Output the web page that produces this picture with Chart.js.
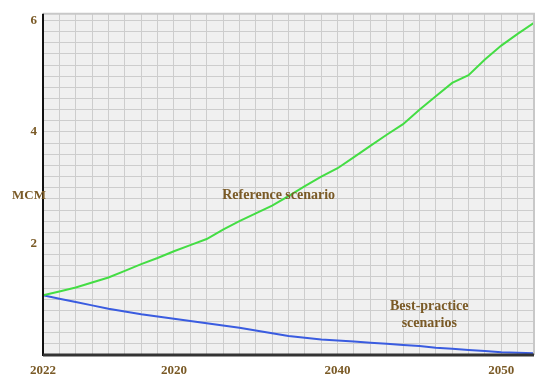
<!DOCTYPE html>
<html>
<head>
<meta charset="utf-8">
<script src="https://cdn.jsdelivr.net/npm/chart.js@4/dist/chart.umd.min.js"></script>
<style>
  html, body { margin: 0; padding: 0; background: #ffffff; }
  #wrap { width: 550px; height: 383px; position: relative; }
</style>
</head>
<body>
<div id="wrap"><canvas id="c" width="550" height="383"></canvas></div>
<script>
// ---- data ----
const years = [2022,2023,2024,2025,2026,2027,2028,2029,2030,2031,2032,2033,2034,2035,2036,2037,2038,2039,2040,2041,2042,2043,2044,2045,2046,2047,2048,2049,2050,2051,2052];
const referenceScenario = [1.07,1.14,1.21,1.30,1.39,1.51,1.63,1.74,1.86,1.97,2.08,2.25,2.40,2.54,2.68,2.85,3.03,3.20,3.35,3.55,3.75,3.95,4.14,4.40,4.64,4.88,5.02,5.30,5.55,5.76,5.96];
const bestPractice = [1.07,1.01,0.95,0.89,0.83,0.78,0.73,0.69,0.65,0.61,0.57,0.53,0.49,0.44,0.39,0.34,0.31,0.28,0.26,0.24,0.22,0.20,0.18,0.16,0.13,0.11,0.09,0.07,0.05,0.04,0.03];
const xTickLabels = {2022: "2022", 2030: "2020", 2040: "2040", 2050: "2050"};
const yTickLabels = [2, 4, 6];
const yAxisTitle = "MCM";
const seriesNotes = [
  {lines: ["Reference scenario"], x: 2036.4, y: 2.86},
  {lines: ["Best-practice", "scenarios"], x: 2045.6, y: 0.88}
];

const textColor = "#7a5a26";
const serif = "'Liberation Serif', 'Times New Roman', serif";

const bgPlugin = {
  id: "bg",
  beforeDraw(chart) {
    const {ctx, chartArea: a} = chart;
    ctx.save();
    ctx.fillStyle = "#f0f0f0";
    ctx.fillRect(a.left, a.top, a.right - a.left, a.bottom - a.top);
    ctx.restore();
  },
  afterDatasetsDraw(chart) {
    const {ctx, chartArea: a, scales} = chart;
    ctx.save();
    ctx.strokeStyle = "#c8c8c8";
    ctx.lineWidth = 2;
    ctx.beginPath();
    ctx.moveTo(a.left, a.top); ctx.lineTo(a.right, a.top); ctx.lineTo(a.right, a.bottom);
    ctx.stroke();
    ctx.strokeStyle = "#111111";
    ctx.lineWidth = 2;
    ctx.beginPath(); ctx.moveTo(a.left, a.top); ctx.lineTo(a.left, a.bottom + 1); ctx.stroke();
    ctx.strokeStyle = "#333333";
    ctx.lineWidth = 3;
    ctx.beginPath(); ctx.moveTo(a.left, a.bottom); ctx.lineTo(a.right, a.bottom); ctx.stroke();
    ctx.fillStyle = textColor;
    ctx.textAlign = "center";
    ctx.textBaseline = "middle";
    ctx.font = "bold 14px " + serif;
    seriesNotes.forEach(n => {
      const px = scales.x.getPixelForValue(n.x);
      const py = scales.y.getPixelForValue(n.y);
      n.lines.forEach((t, i) => ctx.fillText(t, px, py + i * 17));
    });
    ctx.font = "bold 13px " + serif;
    ctx.fillText(yAxisTitle, 29, scales.y.getPixelForValue(2.86));
    ctx.restore();
  }
};

new Chart(document.getElementById("c"), {
  type: "line",
  data: {
    labels: years,
    datasets: [
      {label: "Reference scenario", data: years.map((y, i) => ({x: y, y: referenceScenario[i]})),
       borderColor: "#44dd44", borderWidth: 2, pointRadius: 0, tension: 0, fill: false},
      {label: "Best-practice scenarios", data: years.map((y, i) => ({x: y, y: bestPractice[i]})),
       borderColor: "#3a5ce0", borderWidth: 2, pointRadius: 0, tension: 0, fill: false}
    ]
  },
  options: {
    responsive: false,
    animation: false,
    layout: {padding: {left: 0, right: 16, top: 7, bottom: 0}},
    plugins: {legend: {display: false}, tooltip: {enabled: false}},
    scales: {
      x: {
        type: "linear", min: 2022, max: 2052,
        afterFit(s) { s.height = 28; },
        border: {display: false},
        grid: {color: "#cdcdcd", lineWidth: 1, drawTicks: false},
        ticks: {
          stepSize: 1, autoSkip: false, maxRotation: 0, padding: 8,
          color: textColor, font: {family: serif, size: 13, weight: "bold"},
          callback: v => xTickLabels[v] !== undefined ? xTickLabels[v] : ""
        }
      },
      y: {
        type: "linear", min: 0, max: 6.12,
        afterFit(s) { s.width = 43; },
        afterBuildTicks(s) {
          const t = [];
          for (let i = 0; i <= 30; i++) t.push({value: Math.round(i * 0.2 * 10) / 10});
          s.ticks = t;
        },
        border: {display: false},
        grid: {color: "#cdcdcd", lineWidth: 1, drawTicks: false},
        ticks: {
          autoSkip: false, padding: 6,
          color: textColor, font: {family: serif, size: 13, weight: "bold"},
          callback: v => yTickLabels.some(k => Math.abs(k - v) < 1e-6) ? String(Math.round(v)) : ""
        }
      }
    }
  },
  plugins: [bgPlugin]
});
</script>
</body>
</html>
